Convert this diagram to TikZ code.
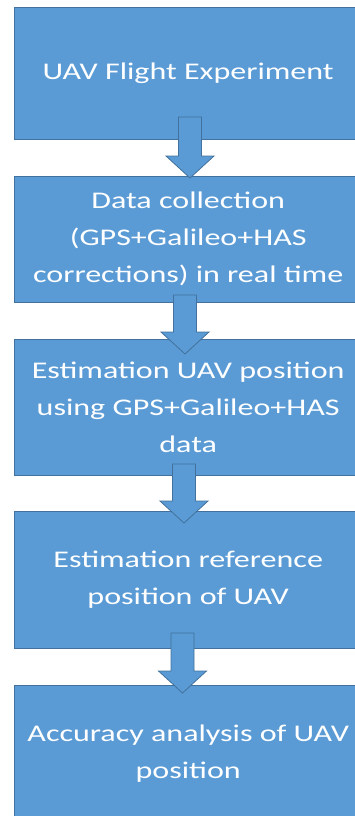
\documentclass[tikz,border=0pt]{standalone}
\usepackage{fontspec}
\setmainfont{Carlito}[FakeStretch=1.34]
\usetikzlibrary{calc,backgrounds}
\definecolor{boxfill}{HTML}{5B9BD5}
\definecolor{boxline}{HTML}{41719C}
\newcommand{\blockarrowx}[3]{% centre x, shaft top y, tip y
  \filldraw[arrowshape] (#1-11.5,#2) -- (#1+11.5,#2) -- (#1+11.5,#3-22) -- (#1+24,#3-22)
    -- (#1,#3) -- (#1-24,#3-22) -- (#1-11.5,#3-22) -- cycle;}
\begin{document}
\begin{tikzpicture}[x=1bp,y=-1bp,
  stepbox/.style={text=white,
    minimum width=348bp, align=center, font=\fontsize{24}{37}\selectfont,
    inner sep=0pt, anchor=north west},
  boxbg/.style={draw=boxline, fill=boxfill, line width=1bp},
  arrowshape/.style={draw=boxline, fill=boxfill, line width=0.8bp, line join=miter}]
\useasboundingbox (0,0) rectangle (354,816);
\node[stepbox, minimum height=131bp] (b1) at (14,8) {UAV Flight Experiment};
\node[stepbox, minimum height=126bp] (b2) at (14,176) {Data collection\\(GPS+Galileo+HAS\\corrections) in real time};
\node[stepbox, minimum height=136bp] (b3) at (14,339) {Estimation UAV position\\using GPS+Galileo+HAS\\data};
\node[stepbox, minimum height=137bp] (b4) at (14,511) {Estimation reference\\position of UAV};
\node[stepbox, minimum height=136bp] (b5) at (14,685) {Accuracy analysis of UAV\\position};
\begin{scope}[on background layer]
  \foreach \b in {b1,b2,b3,b4,b5}
    \draw[boxbg] (\b.north west) rectangle ($(\b.south east)+(30,0)$);
\end{scope}
\blockarrowx{190}{117}{178}
\blockarrowx{185}{295}{354}
\blockarrowx{184}{464}{523}
\blockarrowx{182.5}{633}{693}
\end{tikzpicture}
\end{document}
